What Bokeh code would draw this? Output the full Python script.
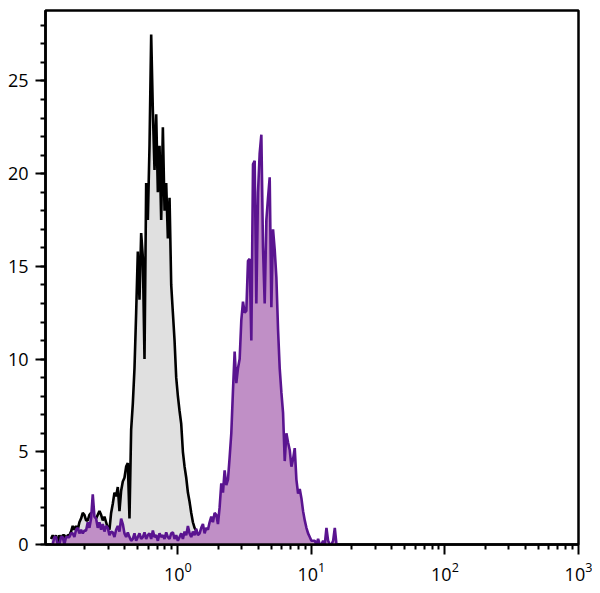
import numpy as np
from bokeh.plotting import figure
from bokeh.models import FixedTicker, SingleIntervalTicker, Range1d, LogTickFormatter
from bokeh.embed import file_html
from bokeh.resources import INLINE

# channel scale: first channel at log10 = -0.95, 80 channels per decade
log_start = -0.95
channels_per_decade = 80

control_counts = [
    0.3, 0.5, 0.3, 0.5, 0.0, 0.5, 0.3, 0.5, 0.5, 0.3,
    0.5, 0.5, 0.7, 1.0, 0.8, 1.0, 0.8, 1.2, 1.4, 1.7,
    1.6, 1.3, 1.3, 1.6, 1.7, 1.2, 1.4, 1.4, 1.6, 1.8,
    1.6, 1.3, 1.5, 1.2, 0.9, 0.8, 1.7, 2.2, 2.8, 2.6,
    3.1, 1.8, 2.9, 3.4, 3.6, 4.2, 4.4, 1.4, 6.2, 7.6,
    9.5, 12.5, 15.8, 13.2, 16.8, 15.5, 10.0, 19.5, 17.5, 21.5,
    27.5, 23.4, 20.2, 23.2, 19.0, 21.5, 17.5, 22.5, 18.0, 19.5,
    16.5, 18.7, 14.0, 12.5, 11.0, 9.0, 8.0, 7.2, 6.5, 5.0,
    4.2, 3.6, 2.8, 2.3, 1.7, 1.2, 0.9, 0.75, 0.5, 0.3,
    0.3, 0.0, 0.0,
]

stained_counts = [
    0.0, 0.0, 0.4, 0.4, 0.0, 0.0, 0.4, 0.4, 0.0, 0.4,
    0.4, 0.4, 0.6, 0.6, 0.4, 0.8, 0.9, 0.6, 0.8, 0.6,
    0.75, 0.75, 1.2, 0.9, 1.4, 2.7, 1.5, 1.4, 0.9, 1.2,
    0.8, 1.1, 0.7, 1.0, 0.9, 0.5, 0.7, 0.65, 0.4, 0.8,
    1.0, 0.7, 1.4, 1.1, 0.6, 0.4, 0.65, 0.4, 0.2, 0.3,
    0.6, 0.2, 0.4, 0.6, 0.3, 0.4, 0.65, 0.3, 0.5, 0.6,
    0.3, 0.75, 0.4, 0.5, 0.2, 0.6, 0.4, 0.5, 0.3, 0.65,
    0.4, 0.3, 0.6, 0.65, 0.3, 0.5, 0.2, 0.4, 0.6, 0.3,
    0.7, 0.5, 1.0, 0.6, 0.4, 0.7, 0.5, 0.85, 0.5, 0.6,
    0.9, 1.1, 0.6, 0.9, 0.8, 1.2, 1.5, 1.2, 1.7, 1.6,
    1.1, 2.0, 3.3, 2.8, 4.0, 3.2, 3.5, 4.7, 6.0, 8.3,
    10.4, 8.7, 9.5, 10.0, 12.1, 13.1, 12.5, 12.6, 15.3, 15.4,
    11.0, 20.5, 20.7, 13.0, 19.0, 21.1, 22.1, 16.0, 13.0, 17.5,
    18.7, 19.8, 12.8, 17.0, 15.9, 14.4, 11.6, 9.5, 8.2, 7.1,
    4.5, 6.0, 5.5, 5.1, 4.2, 4.6, 5.2, 3.5, 2.75, 3.0,
    2.5, 1.8, 1.3, 0.9, 0.6, 0.4, 0.2, 0.2, 0.2, 0.0,
    0.3, 0.0, 0.0, 0.2, 0.0, 0.9, 0.2, 0.0, 0.0, 0.2,
    0.9, 0.0,
]

x_major_ticks = [1, 10, 100, 1000]
x_minor_ticks = [0.2, 0.3, 0.4, 0.5, 0.6, 0.7, 0.8, 0.9,
                 2, 3, 4, 5, 6, 7, 8, 9,
                 20, 30, 40, 50, 60, 70, 80, 90,
                 200, 300, 400, 500, 600, 700, 800, 900]


def channel_x(n):
    return [10 ** (log_start + i / channels_per_decade) for i in range(n)]


xc = channel_x(len(control_counts))
xs = channel_x(len(stained_counts))

p = figure(width=592, height=585, x_axis_type="log",
           x_range=Range1d(0.102, 1000), y_range=Range1d(0, 28.8),
           output_backend="svg", toolbar_location=None,
           min_border_left=45, min_border_right=14,
           min_border_top=10, min_border_bottom=41)

p.varea(x=xc, y1=0, y2=control_counts, fill_color="#e0e0e0")
p.line(x=xc, y=control_counts, line_color="black", line_width=2.6)
p.varea(x=xs, y1=0, y2=stained_counts, fill_color="#c08fc6")
p.line(x=xs, y=stained_counts, line_color="#5a1490", line_width=2.6)

p.grid.visible = False
p.outline_line_color = "black"
p.outline_line_width = 2.5
p.outline_line_alpha = 1

xa = p.xaxis[0]
xa.ticker = FixedTicker(ticks=x_major_ticks, minor_ticks=x_minor_ticks)
xa.formatter = LogTickFormatter()
ya = p.yaxis[0]
ya.ticker = SingleIntervalTicker(interval=5, num_minor_ticks=5)

for ax in (xa, ya):
    ax.axis_line_color = "black"
    ax.axis_line_width = 2.5
    ax.major_tick_line_color = "black"
    ax.major_tick_line_width = 2
    ax.minor_tick_line_color = "black"
    ax.minor_tick_line_width = 2
    ax.major_tick_out = 10
    ax.major_tick_in = 0
    ax.minor_tick_out = 5
    ax.minor_tick_in = 0
    ax.major_label_text_font = "Open Sans"
    ax.major_label_text_font_size = "18px"
    ax.major_label_text_color = "black"
    ax.major_label_standoff = 7

open("out.html", "w").write(file_html(p, INLINE))
